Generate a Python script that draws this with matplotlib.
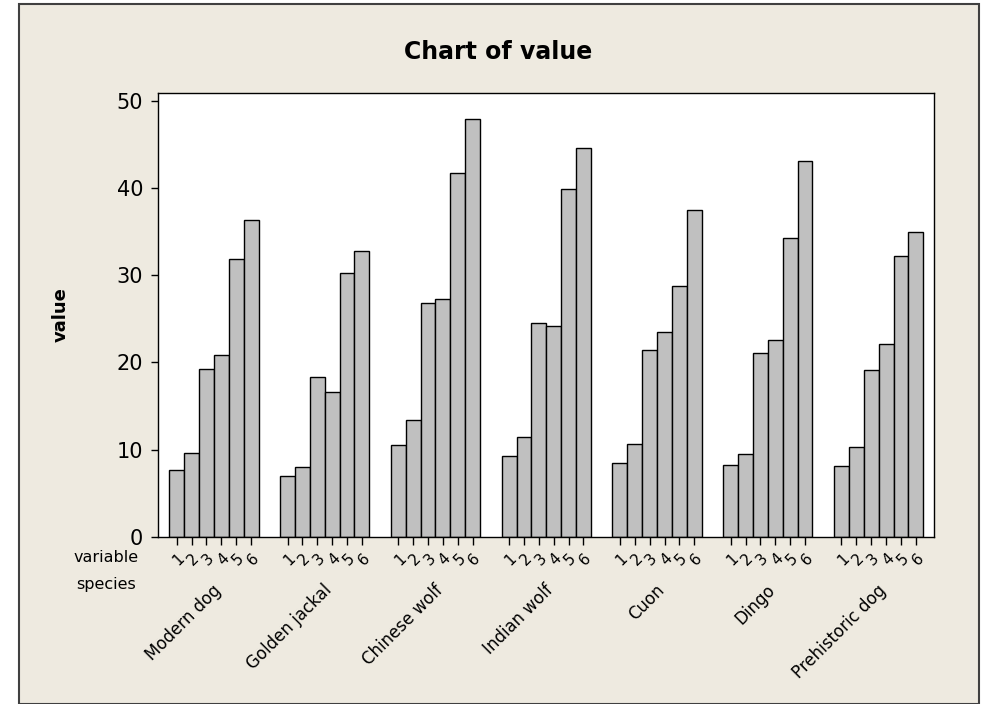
import numpy as np
import matplotlib.pyplot as plt
from matplotlib.patches import Rectangle
import matplotlib.transforms as mtransforms

species = ['Modern dog', 'Golden jackal', 'Chinese wolf', 'Indian wolf',
           'Cuon', 'Dingo', 'Prehistoric dog']
variables = ['1', '2', '3', '4', '5', '6']

modern_dog = [7.7, 9.6, 19.3, 20.9, 31.9, 36.4]
golden_jackal = [7.0, 8.0, 18.3, 16.6, 30.3, 32.8]
chinese_wolf = [10.5, 13.4, 26.8, 27.3, 41.8, 48.0]
indian_wolf = [9.3, 11.5, 24.5, 24.2, 39.9, 44.6]
cuon = [8.5, 10.7, 21.4, 23.5, 28.8, 37.5]
dingo = [8.2, 9.5, 21.1, 22.6, 34.3, 43.1]
prehistoric_dog = [8.1, 10.3, 19.1, 22.1, 32.2, 35.0]

values = [modern_dog, golden_jackal, chinese_wolf, indian_wolf,
          cuon, dingo, prehistoric_dog]

bg = '#EEEAE0'
fig = plt.figure(figsize=(9.82, 7.04), dpi=100, facecolor='white')
# beige panel with a dark frame, drawn behind the axes
fig.add_artist(Rectangle((19 / 982, 0), 960 / 982, 700 / 704,
                         transform=fig.transFigure, facecolor=bg,
                         edgecolor='#404040', linewidth=1.5, zorder=-5))

ax = fig.add_axes([0.1612, 0.2376, 0.7899, 0.6299])
ax.set_facecolor('white')

pitch = 7.45
x_pos = []
labels = []
for i, vals in enumerate(values):
    x = i * pitch + np.arange(len(vals)) + 0.5
    ax.bar(x, vals, width=1.0, color='#C0C0C0', edgecolor='black', linewidth=1.0)
    x_pos.extend(x)
    labels.extend(variables)

ax.set_xlim(-0.74, 6 * pitch + 6 + 0.72)
ax.set_ylim(0, 50.9)
ax.set_yticks([0, 10, 20, 30, 40, 50])
ax.tick_params(axis='y', labelsize=15, length=5, width=1, pad=6)
ax.set_xticks(x_pos)
ax.set_xticklabels(labels, rotation=45, fontsize=11, ha='right',
                   rotation_mode='anchor')
ax.tick_params(axis='x', length=6, width=1, pad=4)
for s in ax.spines.values():
    s.set_color('black')
    s.set_linewidth(1.0)

# species labels under each group
trans = mtransforms.blended_transform_factory(ax.transData, ax.transAxes)
for i, name in enumerate(species):
    ax.text(i * pitch + 3.3, -0.115, name, transform=trans, rotation=45,
            ha='right', va='center', rotation_mode='anchor', fontsize=12)

fig.text(106 / 982, 1 - 557 / 704, 'variable', ha='center', va='center', fontsize=11.5)
fig.text(106 / 982, 1 - 585 / 704, 'species', ha='center', va='center', fontsize=11.5)

fig.text(498 / 982, 1 - 52 / 704, 'Chart of value', ha='center', va='center',
         fontsize=17, fontweight='bold')
fig.text(61 / 982, 1 - 315 / 704, 'value', ha='center', va='center',
         rotation=90, fontsize=13, fontweight='bold')

fig.savefig('out.png', dpi=100, facecolor=fig.get_facecolor())
